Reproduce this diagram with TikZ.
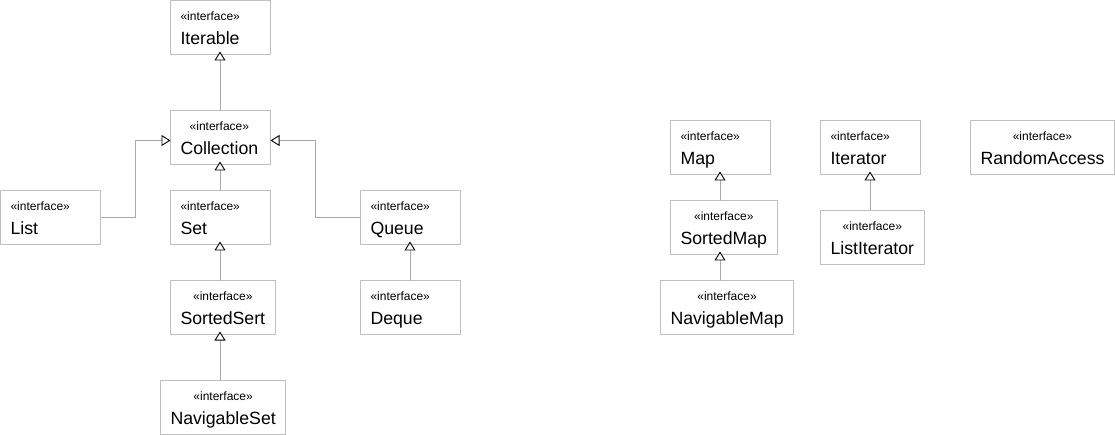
\documentclass[tikz,border=0pt]{standalone}
\usepackage{fontspec}
\setmainfont{Liberation Sans}
\usetikzlibrary{arrows.meta}
\definecolor{boxgray}{RGB}{192,192,192}
\definecolor{linegray}{RGB}{170,170,170}
\newcommand\stf{\fontsize{12}{14}\selectfont}
\newcommand\nmf{\fontsize{17.7}{20}\selectfont}
\newcommand\ifc[1]{\setbox0=\vbox{\baselineskip=24.3pt \lineskiplimit=-30pt \lineskip=0pt
  \halign{\hfil##\hfil\cr
  \stf\rule{0pt}{14.3pt}«interface»\cr
  \nmf\rule[-4pt]{0pt}{4pt}#1\hfill\cr}}%
  \ifdim\wd0<80pt \hbox to 80pt{\box0\hfil}\else\box0\fi}
\tikzset{
  iface/.style={draw=boxgray, line width=1pt, inner xsep=10pt, inner ysep=0pt,
    outer sep=0pt, minimum width=100pt, minimum height=54pt, anchor=north west, text=black},
  inh/.style={draw=linegray, line width=1pt,
    -{Triangle[length=9pt, width=11pt, fill=white, color=black, line width=0.9pt]}},
  inhv/.style={inh, shorten >=-3pt}
}
\begin{document}
\begin{tikzpicture}[x=1pt, y=-1pt]
\useasboundingbox (0,0) rectangle (1115,435);
% left group
\node[iface] (iter) at (170.5,0.5) {\ifc{Iterable}};
\node[iface] (col)  at (170.5,110.5) {\ifc{Collection}};
\node[iface] (list) at (0.5,190.5) {\ifc{List}};
\node[iface] (set)  at (170.5,190.5) {\ifc{Set}};
\node[iface] (queue) at (360.5,190.5) {\ifc{Queue}};
\node[iface] (sset) at (170.5,280.5) {\ifc{SortedSert}};
\node[iface] (deque) at (360.5,280.5) {\ifc{Deque}};
\node[iface] (nset) at (160.5,380.5) {\ifc{NavigableSet}};
% right group
\node[iface] (map) at (670.5,120.5) {\ifc{Map}};
\node[iface] (smap) at (670.5,200.5) {\ifc{SortedMap}};
\node[iface] (nmap) at (660.5,280.5) {\ifc{NavigableMap}};
\node[iface] (itor) at (820.5,120.5) {\ifc{Iterator}};
\node[iface] (litor) at (820.5,210.5) {\ifc{ListIterator}};
\node[iface] (racc) at (970.5,120.5) {\ifc{RandomAccess}};
% attachment points
\coordinate (iterb) at ([xshift=49.5pt]iter.south west);
\coordinate (colb) at ([xshift=49.5pt]col.south west);
\coordinate (setb) at ([xshift=49.5pt]set.south west);
\coordinate (ssetb) at ([xshift=49.5pt]sset.south west);
\coordinate (queueb) at ([xshift=49.5pt]queue.south west);
\coordinate (mapb) at ([xshift=49.5pt]map.south west);
\coordinate (smapb) at ([xshift=49.5pt]smap.south west);
\coordinate (itorb) at ([xshift=49.5pt]itor.south west);
\coordinate (coll) at ([yshift=-30pt]col.north west);
\coordinate (colr) at ([yshift=-30pt]col.north east);
% connectors
\draw[inhv] (col.north -| iterb) -- (iterb);
\draw[inhv] (set.north -| colb) -- (colb);
\draw[inhv] (sset.north -| setb) -- (setb);
\draw[inhv] (nset.north -| ssetb) -- (ssetb);
\draw[inhv] (deque.north -| queueb) -- (queueb);
\draw[inh] (list.east) -| (135.5,0 |- coll) -- (coll);
\draw[inh] (queue.west) -| (315.5,0 |- colr) -- (colr);
\draw[inhv] (smap.north -| mapb) -- (mapb);
\draw[inhv] (nmap.north -| smapb) -- (smapb);
\draw[inhv] (litor.north -| itorb) -- (itorb);
\end{tikzpicture}
\end{document}
